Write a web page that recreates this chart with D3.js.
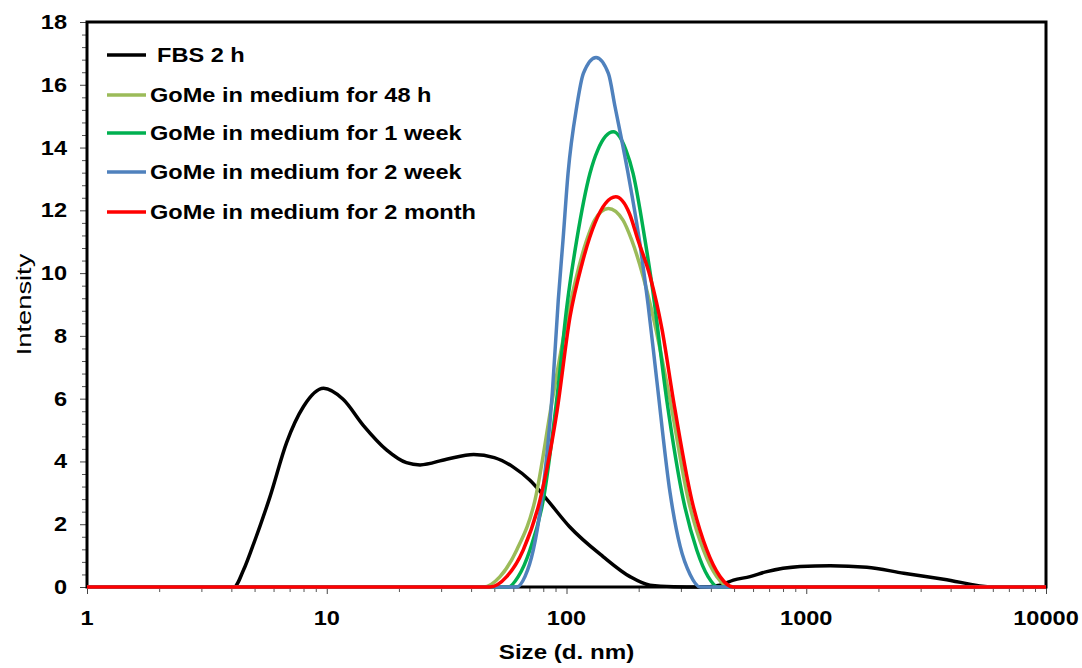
<!DOCTYPE html>
<html>
<head>
<meta charset="utf-8">
<script src="https://cdn.jsdelivr.net/npm/d3@7"></script>
<style>
  body { margin: 0; background: #fff; }
  text { font-family: Arial, "Liberation Sans", sans-serif; fill: #000; }
  .bold { font-weight: bold; }
</style>
</head>
<body>
<div id="chart"></div>
<script>
// size (d. nm) / intensity pairs
const fbsSize = [1, 4.1, 4.5, 4.9, 5.8, 6.8, 8.0, 9.7, 11.7, 14.2, 17.8, 21.5, 24.5, 31.6, 41, 50, 60, 70.4, 82.6, 103, 142, 184, 223, 280, 360, 436, 497, 583, 685, 943, 1260, 1790, 2550, 3740, 6040, 10000];
const fbsInt  = [0, 0, 0.55, 1.28, 2.88, 4.6, 5.75, 6.33, 5.98, 5.15, 4.36, 3.96, 3.89, 4.07, 4.22, 4.12, 3.82, 3.4, 2.8, 1.92, 0.97, 0.33, 0.06, 0.01, 0, 0.06, 0.22, 0.33, 0.49, 0.65, 0.68, 0.63, 0.44, 0.25, 0, 0];

const h48Size = [1, 45.0, 52.8, 62.0, 73.9, 87.0, 101.5, 121.4, 131, 149.5, 172, 187.1, 225.3, 270.4, 322.4, 372.4, 423.6, 481.4, 10000];
const h48Int  = [0, 0, 0.33, 1.18, 2.77, 5.9, 8.7, 11.05, 11.69, 12.06, 11.69, 11.05, 8.9, 5.96, 2.77, 1.18, 0.33, 0, 0];

const w1Size = [1, 57.2, 62.9, 70.4, 80.0, 92.4, 100.2, 110.3, 125.3, 135, 156.8, 177, 189.5, 212.6, 227.5, 261.9, 307.3, 349.4, 389.5, 428.9, 10000];
const w1Int  = [0, 0, 0.33, 1.18, 2.77, 6.4, 8.9, 11.05, 13.18, 13.92, 14.5, 13.92, 13.18, 11.05, 9.6, 5.96, 2.77, 1.18, 0.33, 0, 0];

const w2Size = [1, 62, 67.1, 72.7, 78.8, 87.3, 92.4, 96.7, 101.5, 110.3, 117.6, 132.8, 149.5, 159.4, 180.6, 202.7, 218.9, 237.9, 270.4, 297.7, 327.7, 360.7, 10000];
const w2Int  = [0, 0, 0.33, 1.18, 2.77, 6.2, 9.14, 11.05, 13.18, 15.3, 16.36, 16.87, 16.36, 15.3, 13.18, 10.9, 9.0, 6.6, 3.0, 1.3, 0.4, 0, 0];

const m2Size = [1, 47.9, 56.3, 66.0, 77.5, 91.3, 103.4, 116.1, 131.5, 160.5, 183, 198.8, 223.1, 250.4, 279.1, 333.1, 384.7, 437.1, 495.3, 10000];
const m2Int  = [0, 0, 0.33, 1.18, 2.77, 5.6, 8.6, 10.3, 11.6, 12.43, 11.9, 11.05, 9.9, 8.2, 5.96, 2.77, 1.18, 0.33, 0, 0];

const seriesNames = ["FBS 2 h", "GoMe in medium for 48 h", "GoMe in medium for 1 week", "GoMe in medium for 2 week", "GoMe in medium for 2 month"];
const seriesColors = ["#000000", "#9bbb59", "#00b050", "#4f81bd", "#ff0000"];

const xTicks = [1, 10, 100, 1000, 10000];
const yTicks = [0, 2, 4, 6, 8, 10, 12, 14, 16, 18];

const series = [
  { size: fbsSize, val: fbsInt },
  { size: h48Size, val: h48Int },
  { size: w1Size, val: w1Int },
  { size: w2Size, val: w2Int },
  { size: m2Size, val: m2Int }
].map((s, i) => ({
  name: seriesNames[i],
  color: seriesColors[i],
  points: s.size.map((d, j) => [d, s.val[j]])
}));

const width = 1082, height = 668;
const margin = { top: 22, right: 36, bottom: 81, left: 87 };
const stretch = 1.15; // the source figure is a bit wider than tall

const svg = d3.select("#chart").append("svg").attr("width", width).attr("height", height);

const x = d3.scaleLog().domain([1, 10000]).range([margin.left, width - margin.right]);
const y = d3.scaleLinear().domain([0, 18]).range([height - margin.bottom, margin.top]);

// minor ticks
const xMinor = [];
for (let dec = 1; dec < 10000; dec *= 10) for (let k = 2; k <= 9; k++) xMinor.push(dec * k);
const yMinor = d3.range(0, 18.01, 0.4).filter(v => Math.abs(v / 2 - Math.round(v / 2)) > 0.01);

svg.append("g")
  .attr("transform", `translate(0,${y(0)})`)
  .call(d3.axisBottom(x).tickValues(xMinor).tickSize(5).tickFormat(""))
  .call(g => g.select(".domain").remove())
  .call(g => g.selectAll("line").attr("stroke", "#555"));
svg.append("g")
  .attr("transform", `translate(0,${y(0)})`)
  .call(d3.axisBottom(x).tickValues(xTicks).tickSize(7).tickFormat(""))
  .call(g => g.select(".domain").remove())
  .call(g => g.selectAll("line").attr("stroke", "#444"));
svg.append("g")
  .attr("transform", `translate(${x(1)},0)`)
  .call(d3.axisLeft(y).tickValues(yMinor).tickSize(5).tickFormat(""))
  .call(g => g.select(".domain").remove())
  .call(g => g.selectAll("line").attr("stroke", "#555"));
svg.append("g")
  .attr("transform", `translate(${x(1)},0)`)
  .call(d3.axisLeft(y).tickValues(yTicks).tickSize(7).tickFormat(""))
  .call(g => g.select(".domain").remove())
  .call(g => g.selectAll("line").attr("stroke", "#444"));

// frame
svg.append("rect")
  .attr("x", x(1)).attr("y", y(18))
  .attr("width", x(10000) - x(1)).attr("height", y(0) - y(18))
  .attr("fill", "none").attr("stroke", "#000").attr("stroke-width", 3);

// tick labels
svg.selectAll(".xlab").data(xTicks).enter().append("text")
  .attr("class", "bold")
  .attr("transform", d => `translate(${x(d)},${y(0) + 38}) scale(${stretch},1)`)
  .attr("text-anchor", "middle")
  .style("font-size", "20.5px")
  .text(d => d);

svg.selectAll(".ylab").data(yTicks).enter().append("text")
  .attr("class", "bold")
  .attr("transform", d => `translate(67,${y(d) + 7}) scale(${stretch},1)`)
  .attr("text-anchor", "end")
  .style("font-size", "20.5px")
  .text(d => d);

// axis titles
svg.append("text")
  .attr("class", "bold")
  .attr("transform", `translate(${(x(1) + x(10000)) / 2},659) scale(${stretch},1)`)
  .attr("text-anchor", "middle")
  .style("font-size", "21px")
  .text("Size (d. nm)");

svg.append("text")
  .attr("transform", `translate(31,${(y(0) + y(18)) / 2}) rotate(-90) scale(1.3,1)`)
  .attr("text-anchor", "middle")
  .style("font-size", "21px")
  .text("Intensity");

// curves
const line = d3.line()
  .x(d => x(d[0]))
  .y(d => y(d[1]))
  .curve(d3.curveMonotoneX);

svg.selectAll(".series").data(series).enter().append("path")
  .attr("d", d => line(d.points))
  .attr("fill", "none")
  .attr("stroke", d => d.color)
  .attr("stroke-width", 3.5)
  .attr("stroke-linejoin", "round");

// legend
const legend = svg.append("g");
const legendY = [55, 95, 133, 172, 212];
series.forEach((s, i) => {
  legend.append("line")
    .attr("x1", 107).attr("x2", 146)
    .attr("y1", legendY[i]).attr("y2", legendY[i])
    .attr("stroke", s.color).attr("stroke-width", 3.5);
  legend.append("text")
    .attr("class", "bold")
    .attr("transform", `translate(${i === 0 ? 157 : 150},${legendY[i] + 7}) scale(${stretch},1)`)
    .style("font-size", "20.5px")
    .text(s.name);
});
</script>
</body>
</html>
